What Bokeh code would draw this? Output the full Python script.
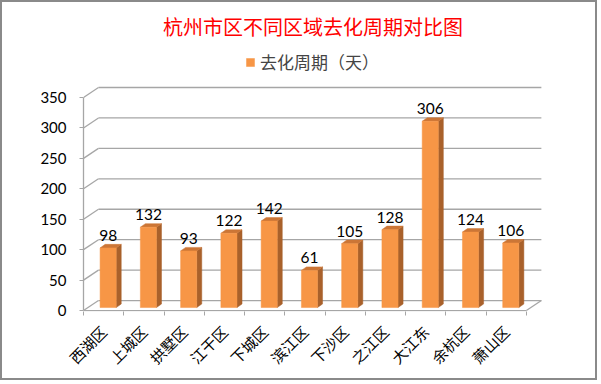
import math
from bokeh.plotting import figure
from bokeh.models import (ColumnDataSource, FixedTicker, Legend, LegendItem, Range1d)
from bokeh.core.properties import value
from bokeh.embed import file_html
from bokeh.resources import INLINE

# ---- data ----
categories = ["西湖区", "上城区", "拱墅区", "江干区", "下城区", "滨江区", "下沙区", "之江区", "大江东", "余杭区", "萧山区"]
cycle_days = [98, 132, 93, 122, 142, 61, 105, 128, 306, 124, 106]
y_ticks = [0, 50, 100, 150, 200, 250, 300, 350]
title_text = "杭州市区不同区域去化周期对比图"
series_name = "去化周期（天）"

# ---- 3D geometry (data units) ----
WALL_DX, WALL_DY = 0.372, 16.4      # depth of the chart box
BAR_X0, BAR_Y0 = 0.112, 4.9         # bar front face position in depth
BAR_DX, BAR_DY = 0.125, 5.8         # bar depth
BAR_W = 0.40

FRONT = "#F79646"
SIDE = "#A9612B"
TOP = "#CC7636"
GRID = "#A6A6A6"
LABEL_FONT = "Lato"
CJK_FONT = "Noto Sans CJK SC"

n = len(categories)
xs = list(range(n))

p = figure(width=597, height=380, output_backend="svg", toolbar_location=None,
           x_range=Range1d(-0.5, 10.9), y_range=Range1d(-1.6, 435.4),
           min_border_left=81, min_border_right=57, min_border_top=43, min_border_bottom=71,
           title=title_text)
p.styles = {"border": "2px solid #8a8a8a"}
p.outline_line_color = None
p.grid.visible = False
p.background_fill_color = "white"
p.border_fill_color = "white"

p.title.align = "center"
p.title.text_color = "#FF0000"
p.title.text_font = CJK_FONT
p.title.text_font_size = "20px"
p.title.text_font_style = "normal"

# back wall gridlines + left diagonals
gx0 = [-0.5 + WALL_DX] * len(y_ticks)
gx1 = [n - 0.5 + WALL_DX] * len(y_ticks)
gy = [t + WALL_DY for t in y_ticks]
p.segment(x0=gx0, y0=gy, x1=gx1, y1=gy, line_color=GRID, line_width=1.3)
p.segment(x0=[-0.5] * len(y_ticks), y0=y_ticks, x1=gx0, y1=gy, line_color=GRID, line_width=1.3)
# floor front and right edges
p.segment(x0=[-0.5, n - 0.5], y0=[0, 0], x1=[n - 0.5, n - 0.5 + WALL_DX], y1=[0, WALL_DY],
          line_color=GRID, line_width=1.3)

# bars
left = [x + BAR_X0 - BAR_W / 2 for x in xs]
right = [x + BAR_X0 + BAR_W / 2 for x in xs]
bottom = [BAR_Y0] * n
top = [v + BAR_Y0 for v in cycle_days]
src = ColumnDataSource(dict(left=left, right=right, bottom=bottom, top=top))

side_xs = [[r, r, r + BAR_DX, r + BAR_DX] for r in right]
side_ys = [[b, t, t + BAR_DY, b + BAR_DY] for b, t in zip(bottom, top)]
top_xs = [[l, r, r + BAR_DX, l + BAR_DX] for l, r in zip(left, right)]
top_ys = [[t, t, t + BAR_DY, t + BAR_DY] for t in top]
p.patches(side_xs, side_ys, fill_color=SIDE, line_color=SIDE, line_width=0.5)
p.patches(top_xs, top_ys, fill_color=TOP, line_color=TOP, line_width=0.5)
front = p.quad(left="left", right="right", bottom="bottom", top="top", source=src,
               fill_color=FRONT, line_color=FRONT, line_width=0.5)

# data labels
p.text(x=[x + BAR_X0 for x in xs], y=[t + BAR_DY for t in top], text=[str(v) for v in cycle_days],
       text_align="center", text_baseline="alphabetic", y_offset=-9,
       text_font=value(LABEL_FONT), text_font_size="15.5px", text_color="black")

# legend (inside the upper, empty part of the frame)
legend = Legend(items=[LegendItem(label=series_name, renderers=[front])],
                orientation="horizontal", location=(162, 237),
                glyph_width=10, glyph_height=10, label_text_font=CJK_FONT,
                label_text_font_size="17px", border_line_color=None,
                background_fill_alpha=0, padding=0, margin=0, spacing=4, label_standoff=5)
p.add_layout(legend, "center")

# axes
xa = p.xaxis[0]
xa.ticker = FixedTicker(ticks=xs, minor_ticks=[x - 0.5 for x in range(n + 1)])
xa.major_label_overrides = {i: c for i, c in enumerate(categories)}
xa.major_label_orientation = math.pi / 4
xa.major_label_text_font = CJK_FONT
xa.major_label_text_font_size = "15px"
xa.major_label_text_color = "black"
xa.major_tick_line_color = None
xa.minor_tick_line_color = GRID
xa.minor_tick_in = 0
xa.minor_tick_out = 4
xa.axis_line_color = None
xa.major_label_standoff = 11

ya = p.yaxis[0]
ya.ticker = FixedTicker(ticks=y_ticks, minor_ticks=[])
ya.bounds = (0, 350)
ya.axis_line_color = GRID
ya.axis_line_width = 1.3
ya.major_tick_line_color = GRID
ya.major_tick_in = 0
ya.major_tick_out = 4
ya.major_label_standoff = 13
ya.major_label_text_font = LABEL_FONT
ya.major_label_text_font_size = "15px"
ya.major_label_text_color = "black"

open("out.html", "w").write(file_html(p, INLINE))
